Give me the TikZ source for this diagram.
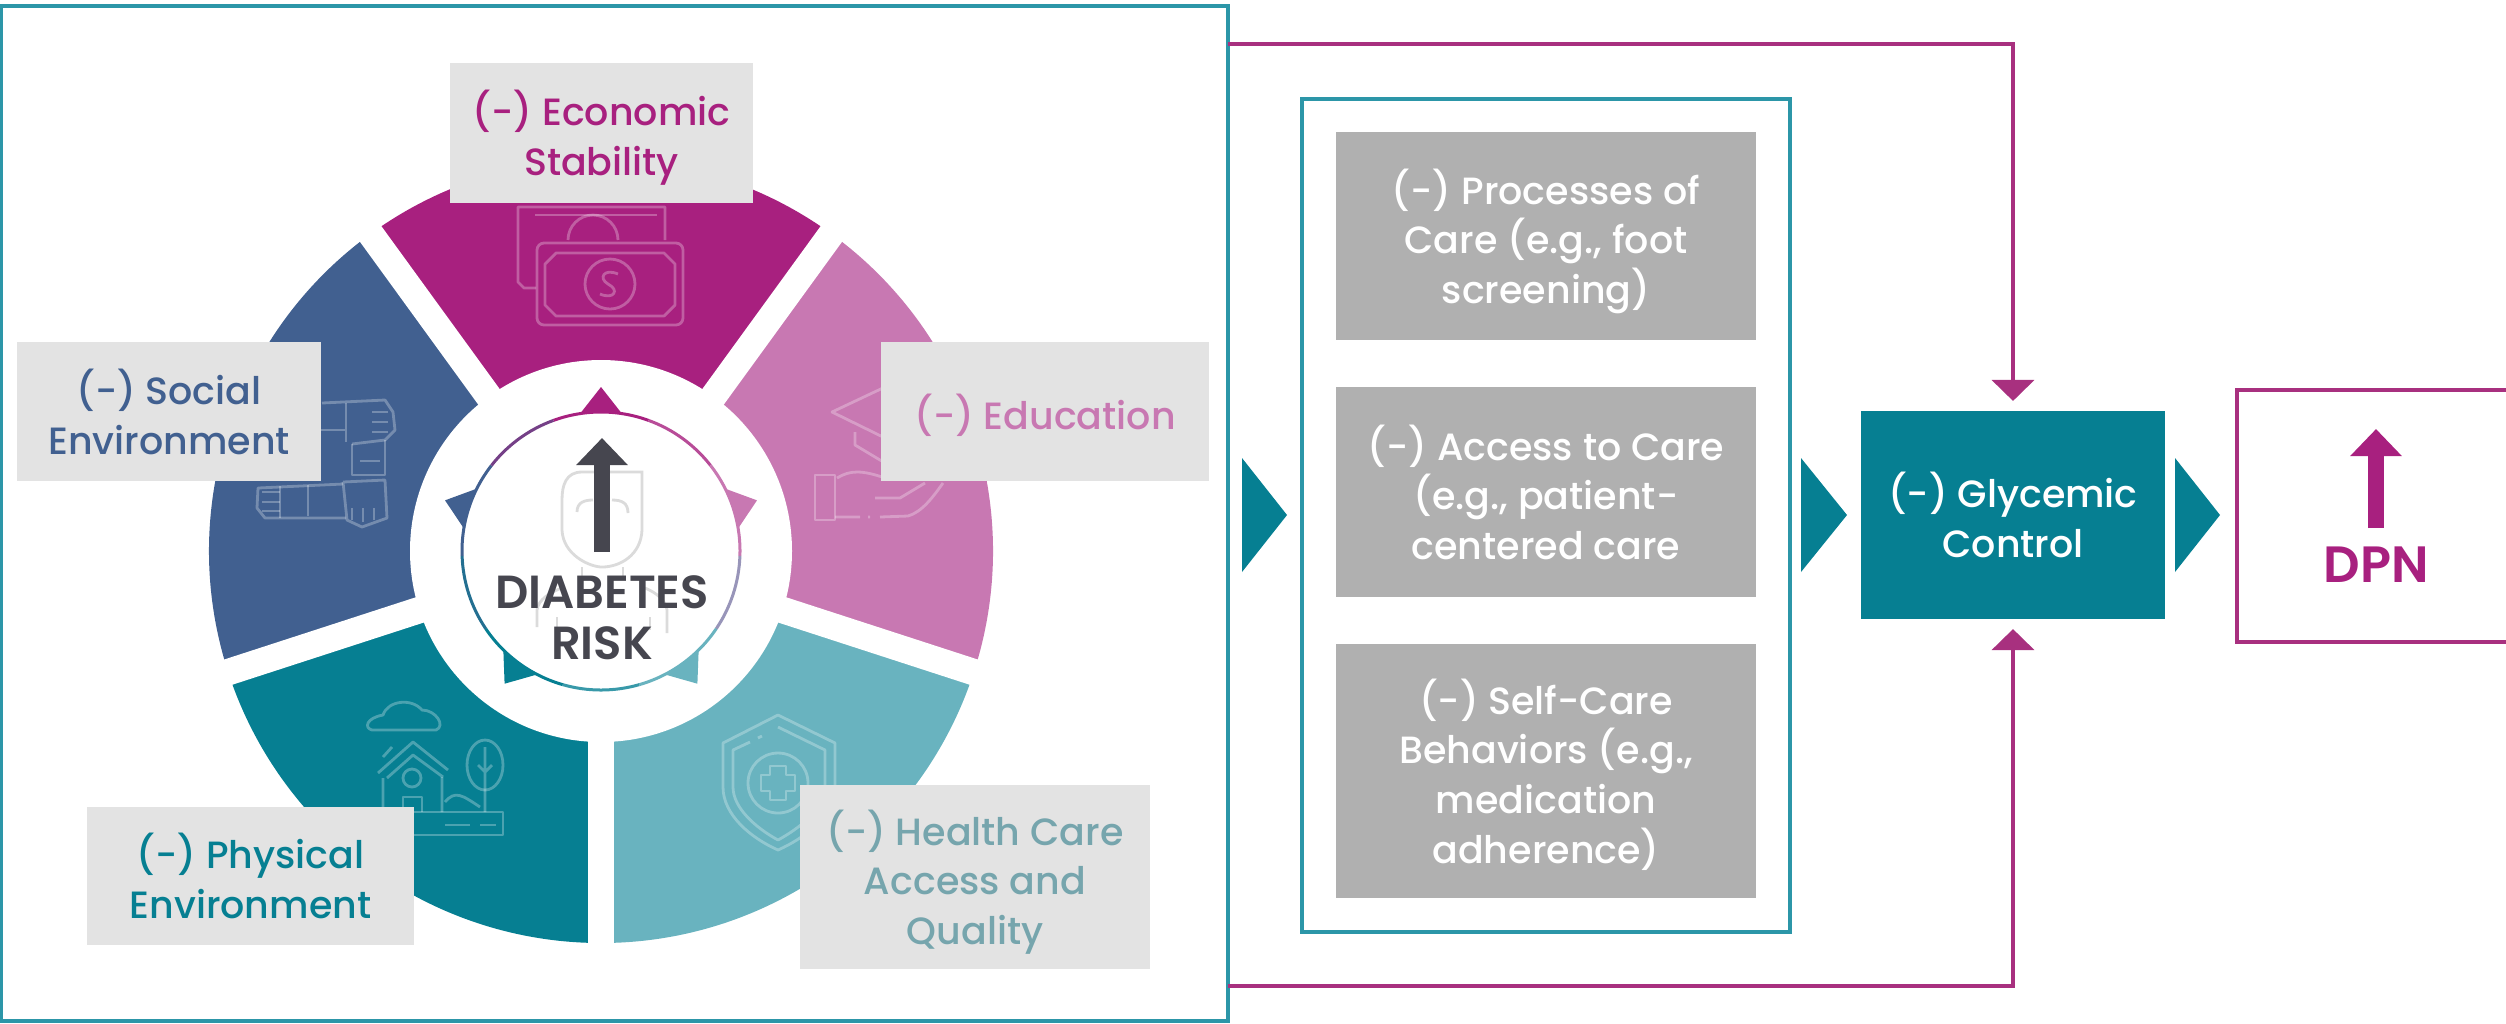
\documentclass[tikz,border=0pt]{standalone}
\usepackage{fontspec}
\setmainfont{Poppins Medium}[BoldFont=Poppins SemiBold]
\usetikzlibrary{arrows.meta,calc}
\definecolor{econcol}{HTML}{A8207F}
\definecolor{socialcol}{HTML}{416090}
\definecolor{educol}{HTML}{C878B2}
\definecolor{healthcol}{HTML}{69B3BF}
\definecolor{physcol}{HTML}{067F92}
\definecolor{framecol}{HTML}{2C96A8}
\definecolor{feedcol}{HTML}{A8307F}
\definecolor{inkcol}{HTML}{46464F}
\tikzset{
	labelbox/.style={fill=black!11, align=center, inner sep=0, outer sep=0, text depth=0pt, font=\fontsize{10.8}{14.1}\selectfont},
	carebox/.style={labelbox, fill=black!31, text=white, minimum width=4.2cm},
	framebox/.style={draw=framecol, line width=0.04cm, inner sep=0, outer sep=0},
	feedline/.style={draw=feedcol, line width=0.04cm, shorten >=0.1cm, -{Triangle[width=0.42cm,length=0.21cm]}},
	bigarrow/.style={line width=0.16cm, -{Triangle[width=0.5cm,length=0.27cm]}},
	iconline/.style={draw=white, draw opacity=0.28, line width=0.028cm, line join=round},
	faceline/.style={draw=black!14, line width=0.028cm},
}
\def\wheelpart[#1](#2:#3){\fill[#1] (hub) -- ($(hub)+(#2:392)$) arc (#2:#3:392) -- cycle;}
\def\hubtip[#1](#2){\fill[#1] ($(hub)+(#2-10:136)$) -- ($(hub)+(#2:164)$) -- ($(hub)+(#2+10:136)$) -- cycle;}
\def\hubarc[#1](#2:#3){\draw[#1, line width=0.03cm] ($(hub)+(#2:139)$) arc (#2:#3:139);}
\begin{document}
\begin{tikzpicture}[x=0.01cm, y=-0.01cm]
	%%%%% START %%%%%
	\useasboundingbox (0,0) rectangle (2506,1023);
	\coordinate (hub) at (601,551);
	
	% wheel
	\wheelpart[econcol](-126:-54);
	\wheelpart[educol](-54:18);
	\wheelpart[healthcol](18:90);
	\wheelpart[physcol](90:162);
	\wheelpart[socialcol](162:234);
	\draw[white, line width=0.265cm] (hub) -- ++(-126:400);
	\draw[white, line width=0.265cm] (hub) -- ++(-54:400);
	\draw[white, line width=0.265cm] (hub) -- ++(18:400);
	\draw[white, line width=0.265cm] (hub) -- ++(90:400);
	\draw[white, line width=0.265cm] (hub) -- ++(162:400);
	\fill[white] (hub) circle (191);
	
	% icon money
	\draw[iconline] (536,288) -- (524,288) -- (518,282) -- (518,207) -- (665,207) -- (665,240);
	\draw[iconline] (535,215) -- (657,215);
	\draw[iconline] (568,240) arc (180:360:25);
	\draw[iconline, rounded corners=2] (537,243) rectangle (683,325);
	\draw[iconline] (556,253) -- (664,253) -- (675,264) -- (675,305) -- (664,316) -- (556,316) -- (545,305) -- (545,264) -- cycle;
	\draw[iconline] (610,284) circle (25);
	\draw[iconline] (618,274) .. controls (604,268) and (598,278) .. (608,284) .. controls (620,290) and (614,300) .. (600,294);
	
	% icon hands
	\draw[iconline] (322,403) -- (385,400) -- (393,412) -- (395,430) -- (385,440) -- (352,444);
	\draw[iconline] (346,403) -- (346,442) (321,430) -- (346,430);
	\draw[iconline] (372,412) -- (388,412) (372,422) -- (388,422) (372,432) -- (388,432);
	\draw[iconline] (352,444) -- (352,475) -- (385,475) -- (385,440) (360,461) -- (380,461);
	\draw[iconline] (343,482) -- (385,480) -- (387,518) -- (362,527) -- (347,520) -- (343,482);
	\draw[iconline] (352,508) -- (352,520) (363,508) -- (363,522) (374,508) -- (374,520);
	\draw[iconline] (343,484) -- (258,488) -- (257,508) -- (265,518) -- (346,518);
	\draw[iconline] (262,492) -- (280,492) (262,502) -- (280,502) (262,511) -- (280,511);
	\draw[iconline] (308,485) -- (308,516) (280,486) -- (280,518);
	
	% icon cap and hand
	\draw[iconline] (885,387) -- (832,412) -- (885,438);
	\draw[iconline] (855,432) -- (855,445) -- (885,463);
	\draw[iconline] (837,478) .. controls (850,470) and (862,470) .. (885,478);
	\draw[iconline] (815,475) rectangle (835,520);
	\draw[iconline] (835,517) -- (860,517) (868,517) -- (870,517) (880,517) -- (908,516) .. controls (922,512) and (933,497) .. (943,483);
	\draw[iconline] (875,498) -- (900,498) -- (925,483);
	
	% icon shield
	\draw[iconline] (778,715) -- (835,743) -- (835,787) .. controls (835,815) and (805,838) .. (778,850) .. controls (751,838) and (723,815) .. (723,787) -- (723,743) -- cycle;
	\draw[iconline] (778,727) -- (825,750) -- (825,787) .. controls (825,808) and (800,828) .. (778,840) .. controls (756,828) and (733,808) .. (733,787) -- (733,750) -- (750,742) (758,738) -- (762,736) (768,732) -- cycle;
	\draw[iconline] (778,783) circle (30);
	\draw[iconline] (770,766) -- (786,766) -- (786,775) -- (795,775) -- (795,791) -- (786,791) -- (786,800) -- (770,800) -- (770,791) -- (761,791) -- (761,775) -- (770,775) -- cycle;
	
	% icon house
	\draw[iconline] (372,730) .. controls (364,728) and (366,718) .. (383,715) .. controls (388,700) and (412,698) .. (422,710) .. controls (436,710) and (446,726) .. (436,730) -- cycle;
	\draw[iconline] (378,773) -- (413,742) -- (448,770) (387,778) -- (413,755) -- (443,777);
	\draw[iconline] (383,778) -- (383,812) (442,777) -- (442,812) (383,757) -- (392,747);
	\draw[iconline] (412,778) circle (9);
	\draw[iconline] (403,812) -- (403,797) -- (422,797) -- (422,812);
	\draw[iconline] (445,802) .. controls (455,790) and (462,795) .. (480,807);
	\draw[iconline] (485,747) -- (485,812) (478,765) -- (485,772) -- (492,765);
	\draw[iconline] (485,765) ellipse (18 and 25);
	\draw[iconline] (400,812) rectangle (503,835) (445,825) -- (470,825) (480,825) -- (496,825);
	
	% centre of the wheel
	\hubtip[econcol](-90);
	\hubtip[educol](-18);
	\hubtip[healthcol](54);
	\hubtip[physcol](126);
	\hubtip[socialcol](198);
	\fill[white] (hub) circle (139);
	\hubarc[econcol](-110:-70);
	\hubarc[econcol!50!educol](-70:-38);
	\hubarc[educol](-38:2);
	\hubarc[educol!50!healthcol](2:34);
	\hubarc[healthcol](34:74);
	\hubarc[healthcol!50!physcol](74:106);
	\hubarc[physcol](106:146);
	\hubarc[physcol!50!socialcol](146:178);
	\hubarc[socialcol](178:218);
	\hubarc[socialcol!50!econcol](218:250);
	
	% the face
	\draw[faceline] (642,472) -- (582,472) .. controls (566,472) and (562,485) .. (562,500) -- (562,530) .. controls (563,555) and (590,567) .. (602,567) .. controls (620,567) and (641,555) .. (642,530) -- cycle;
	\draw[faceline] (577,512) .. controls (577,502) and (585,500) .. (593,500) (612,500) .. controls (622,500) and (628,503) .. (628,513);
	\draw[faceline] (582,567) -- (582,580) (623,567) -- (623,580);
	\draw[faceline] (537,627) -- (537,610) .. controls (538,600) and (550,592) .. (562,588);
	\draw[faceline] (667,633) -- (667,610) .. controls (666,600) and (655,592) .. (645,588);
	\draw[faceline] (557,617) -- (557,630) (650,617) -- (650,630);
	
	\coordinate (hubfoot) at (602,552);
	\coordinate (hubhead) at (602,438);
	\draw[bigarrow, inkcol] (hubfoot) -- (hubhead);
	\node[align=center, inner sep=0, text=inkcol, font=\fontsize{13.2}{14.5}\selectfont\bfseries] (hubtext) at (602,618) {DIABETES\\RISK};
	
	% the labels
	\node[labelbox, minimum width=3.03cm, minimum height=1.4cm, text=econcol] (econ) at (601.5,133) {(−) Economic\\Stability};
	\node[labelbox, minimum width=3.04cm, minimum height=1.39cm, text=socialcol] (social) at (169,411.5) {(−) Social\\Environment};
	\node[labelbox, minimum width=3.28cm, minimum height=1.39cm, text=educol] (educ) at (1045,411.5) {(−) Education};
	\node[labelbox, minimum width=3.27cm, minimum height=1.38cm, text=physcol] (physic) at (250.5,876) {(−) Physical\\Environment};
	\node[labelbox, minimum width=3.5cm, minimum height=1.84cm, text=healthcol!80!black!80] (health) at (975,877) {(−) Health Care\\Access and\\Quality};
	
	\node[framebox, minimum width=12.27cm, minimum height=10.15cm] (wheelframe) at (614.5,513.5) {};
	
	% middle column
	\node[framebox, minimum width=4.88cm, minimum height=8.33cm] (careframe) at (1546,515.5) {};
	\node[carebox, minimum height=2.08cm] (procbox) at (1546,236) {(−) Processes of\\Care (e.g., foot\\screening)};
	\node[carebox, minimum height=2.1cm] (accessbox) at (1546,492) {(−) Access to Care\\(e.g., patient-\\centered care};
	\node[carebox, minimum height=2.54cm] (selfbox) at (1546,771) {(−) Self-Care\\Behaviors (e.g.,\\medication\\adherence)};
	
	\fill[physcol] (1242,458) -- (1287,515) -- (1242,572) -- cycle;
	\fill[physcol] (1801,458) -- (1847,515) -- (1801,572) -- cycle;
	\fill[physcol] (2175,458) -- (2220,515) -- (2175,572) -- cycle;
	
	\node[labelbox, fill=physcol, text=white, minimum width=3.04cm, minimum height=2.08cm] (glyc) at (2013,515) {(−) Glycemic\\Control};
	
	\coordinate (feedtop) at (1228,44);
	\coordinate (feedbottom) at (1228,986);
	\draw[feedline] (feedtop) -| (glyc.north);
	\draw[feedline] (feedbottom) -| (glyc.south);
	
	% the outcome
	\draw[draw=feedcol, line width=0.04cm] (2506,390) -- (2237,390) -- (2237,642) -- (2506,642);
	\node[inner sep=0, text=econcol, font=\fontsize{14.5}{14}\selectfont\bfseries] (dpntext) at (2376,565) {DPN};
	\coordinate (dpnfoot) at (2376,528);
	\coordinate (dpnhead) at (2376,429);
	\draw[bigarrow, econcol] (dpnfoot) -- (dpnhead);
	%%%%% END %%%%%
\end{tikzpicture}
\end{document}
